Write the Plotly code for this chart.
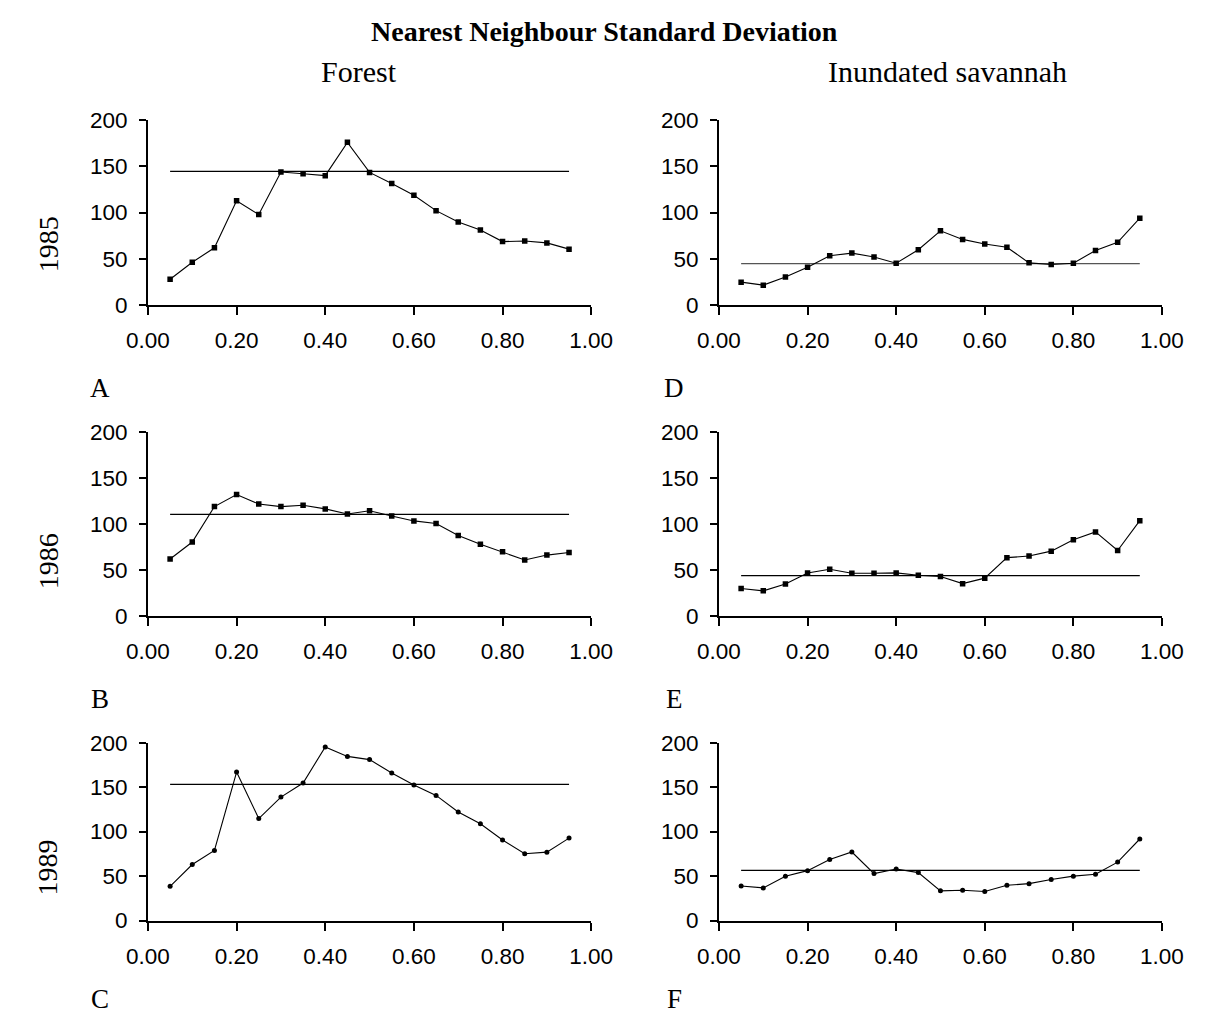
import plotly.graph_objects as go

W, H = 1209, 1023

x_vals = [0.05, 0.10, 0.15, 0.20, 0.25, 0.30, 0.35, 0.40, 0.45, 0.50,
          0.55, 0.60, 0.65, 0.70, 0.75, 0.80, 0.85, 0.90, 0.95]

forest_1985 = [28.2, 46.5, 62, 112.7, 97.9, 143.7, 141.9, 139.8, 175.7, 143.3,
               131.3, 118.7, 102.1, 89.8, 81.3, 68.7, 69.4, 67.3, 60.6]
forest_1986 = [62.3, 80.7, 119.3, 132.4, 122.1, 119.3, 120.7, 116.8, 111.2, 114.7,
               109, 103.7, 100.9, 87.8, 78.2, 70.1, 61.2, 66.5, 69.4]
forest_1989 = [38.5, 63, 78.8, 167, 114.7, 138.8, 154.6, 195.2, 184.6, 181,
               166, 152.4, 140.7, 122, 108.8, 90.5, 75.1, 76.9, 92.7]
savannah_1985 = [25, 21.8, 30.6, 41.2, 53.5, 56.3, 52.1, 45.4, 59.9, 80.3,
                 71.1, 66.2, 62.7, 45.8, 44, 45.4, 59.2, 68, 94]
savannah_1986 = [30.1, 27.6, 35, 47.1, 51, 46.7, 46.7, 47.1, 44.6, 43.2,
                 35.4, 41.4, 63.7, 65.5, 70.8, 83.2, 91.7, 71.5, 104]
savannah_1989 = [38.9, 36.7, 49.9, 56.1, 68.6, 77.1, 52.8, 58, 53.9, 33.4,
                 34.1, 32.7, 39.6, 41.5, 46.2, 49.9, 52.1, 65.7, 91.7]

mean_forest = [144.4, 110.8, 153.1]
mean_savannah = [45, 44.2, 56.5]

years = ["1985", "1986", "1989"]
panel_letters_left = ["A", "B", "C"]
panel_letters_right = ["D", "E", "F"]
x_ticks = [0.0, 0.2, 0.4, 0.6, 0.8, 1.0]
y_ticks = [0, 50, 100, 150, 200]

# plot-area pixel boxes (left, right, top, bottom)
left_x = (130.7, 590.7)
right_x = (723.3, 1183.0)
rows_y = [(110.5, 300.7), (431.0, 619.3), (749.0, 931.3)]

series_left = [forest_1985, forest_1986, forest_1989]
series_right = [savannah_1985, savannah_1986, savannah_1989]
symbols = ["square", "square", "circle"]
msizes = [5.5, 5.5, 5]

TICKFONT = dict(family="Liberation Sans, Arial", size=22.5, color="black")
SERIF = "Liberation Serif, Times New Roman"

fig = go.Figure()
layout = {}


def px_x(p):
    return p / W


def px_y(p):
    return 1 - p / H


idx = 0
for r in range(3):
    for c in range(2):
        idx += 1
        xs = "x" if idx == 1 else f"x{idx}"
        ys = "y" if idx == 1 else f"y{idx}"
        xl = "xaxis" if idx == 1 else f"xaxis{idx}"
        yl = "yaxis" if idx == 1 else f"yaxis{idx}"
        xb = left_x if c == 0 else right_x
        yb = rows_y[r]
        data = series_left[r] if c == 0 else series_right[r]
        mean = mean_forest[r] if c == 0 else mean_savannah[r]
        mean_color = "black" if not (r == 0 and c == 1) else "#555555"

        fig.add_trace(go.Scatter(
            x=[x_vals[0], x_vals[-1]], y=[mean, mean], mode="lines",
            line=dict(color=mean_color, width=1.3), xaxis=xs, yaxis=ys,
            showlegend=False, hoverinfo="skip"))
        fig.add_trace(go.Scatter(
            x=x_vals, y=data, mode="lines+markers",
            line=dict(color="black", width=1.1),
            marker=dict(symbol=symbols[r], size=msizes[r], color="black"),
            xaxis=xs, yaxis=ys, showlegend=False))

        layout[xl] = dict(
            domain=[px_x(xb[0]), px_x(xb[1])], range=[0, 1],
            anchor=ys, showgrid=False, zeroline=False,
            showline=True, linecolor="black", linewidth=2,
            ticks="outside", ticklen=8, tickwidth=2, tickcolor="black",
            tickvals=x_ticks, tickformat=".2f", tickfont=TICKFONT,
            ticklabelstandoff=6, fixedrange=True)
        layout[yl] = dict(
            domain=[px_y(yb[1]), px_y(yb[0])], range=[0, 200],
            anchor=xs, showgrid=False, zeroline=False,
            showline=True, linecolor="black", linewidth=2,
            ticks="outside", ticklen=7, tickwidth=2, tickcolor="black",
            tickvals=y_ticks, tickfont=TICKFONT,
            ticklabelstandoff=7, fixedrange=True)

annotations = []


def txt(text, x, y, size, bold=False, angle=0):
    annotations.append(dict(
        text=f"<b>{text}</b>" if bold else text,
        x=px_x(x), y=px_y(y), xref="paper", yref="paper",
        xanchor="center", yanchor="middle", showarrow=False,
        textangle=angle, font=dict(family=SERIF, size=size, color="black")))


txt("Nearest Neighbour Standard Deviation", 604, 20, 28, bold=True)
txt("Forest", 350, 61, 30)
txt("Inundated savannah", 960, 61, 30)

row_label_y = [238, 563, 877]
letter_y = [385, 704, 1012]
for r in range(3):
    txt(years[r], 27, row_label_y[r], 28, angle=-90)
    txt(panel_letters_left[r], 81, letter_y[r], 27)
    txt(panel_letters_right[r], 677, letter_y[r], 27)

fig.update_layout(
    width=W, height=H, margin=dict(l=0, r=0, t=0, b=0),
    paper_bgcolor="white", plot_bgcolor="white",
    annotations=annotations, showlegend=False, **layout)

fig.write_html(
    "out.html", config={"displayModeBar": False},
    post_script="document.body.style.margin='0';document.body.style.overflow='hidden';")
